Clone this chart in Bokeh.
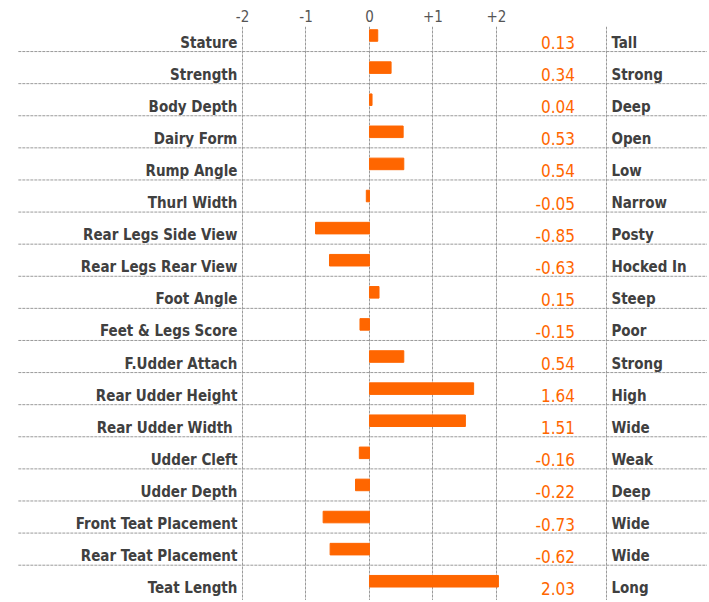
from bokeh.plotting import figure
from bokeh.models import Range1d, FixedTicker, ColumnDataSource
from bokeh.core.properties import value
from bokeh.embed import file_html
from bokeh.resources import INLINE

traits = ["Stature", "Strength", "Body Depth", "Dairy Form", "Rump Angle", "Thurl Width",
          "Rear Legs Side View", "Rear Legs Rear View", "Foot Angle", "Feet & Legs Score",
          "F.Udder Attach", "Rear Udder Height", "Rear  Udder Width", "Udder Cleft",
          "Udder Depth", "Front Teat Placement", "Rear Teat Placement", "Teat Length"]
values = [0.13, 0.34, 0.04, 0.53, 0.54, -0.05, -0.85, -0.63, 0.15, -0.15,
          0.54, 1.64, 1.51, -0.16, -0.22, -0.73, -0.62, 2.03]
descriptors = ["Tall", "Strong", "Deep", "Open", "Low", "Narrow", "Posty", "Hocked In",
               "Steep", "Poor", "Strong", "High", "Wide", "Weak", "Deep", "Wide", "Wide", "Long"]
tick_values = [-2, -1, 0, 1, 2]
tick_labels = ["-2", "-1", "0", "+1", "+2"]

ORANGE = "#FF6600"
TEXT = "#404040"
GRID = "#9a9a9a"
FONT = "DejaVu Sans Condensed"

LABEL_X = -2.08
VALUE_X = 3.236
SEP_X = 3.73
DESC_X = 3.81
LINE_X0 = -5.53
LINE_X1 = 5.5

idx = list(range(len(traits)))
src = ColumnDataSource(dict(
    y=idx, v=values, trait=traits, desc=descriptors,
    vtxt=[f"{v:.2f}" for v in values],
))

p = figure(width=707, height=600, x_range=Range1d(-5.811, 5.323),
           y_range=Range1d(17.60, -0.2804), x_axis_location="above",
           y_axis_location=None, output_backend="svg", toolbar_location=None,
           min_border=0, min_border_top=26, outline_line_color=None)

ax = p.xaxis[0]
ax.ticker = FixedTicker(ticks=tick_values)
ax.major_label_overrides = {t: l for t, l in zip(tick_values, tick_labels)}
ax.axis_line_color = None
ax.major_tick_line_color = None
ax.minor_tick_line_color = None
ax.major_tick_out = 0
ax.major_tick_in = 0
ax.major_label_standoff = 5
ax.major_label_text_font = FONT
ax.major_label_text_font_size = "15px"
ax.major_label_text_color = "#555555"

p.xgrid.ticker = FixedTicker(ticks=tick_values + [SEP_X])
p.xgrid.grid_line_color = GRID
p.xgrid.grid_line_dash = "3 1"
p.xgrid.grid_line_width = 1
p.ygrid.visible = False

sep = ColumnDataSource(dict(y=[i + 0.5 for i in idx[:-1]]))
p.segment(x0=LINE_X0, x1=LINE_X1, y0="y", y1="y", source=sep,
          line_color=GRID, line_dash="3 1", line_width=1)

p.hbar(y="y", left=0, right="v", height=0.36, source=src, color=ORANGE)

common = dict(text_baseline="alphabetic", y_offset=7, text_font=value(FONT), source=src)
p.text(x=LABEL_X, y="y", text="trait", text_align="right", text_color=TEXT,
       text_font_style="bold", text_font_size="15px", **common)
p.text(x=VALUE_X, y="y", text="vtxt", text_align="right", text_color=ORANGE,
       text_font_size="17px", **common)
p.text(x=DESC_X, y="y", text="desc", text_align="left", text_color=TEXT,
       text_font_style="bold", text_font_size="15px", **common)

open("out.html", "w").write(file_html(p, INLINE))
